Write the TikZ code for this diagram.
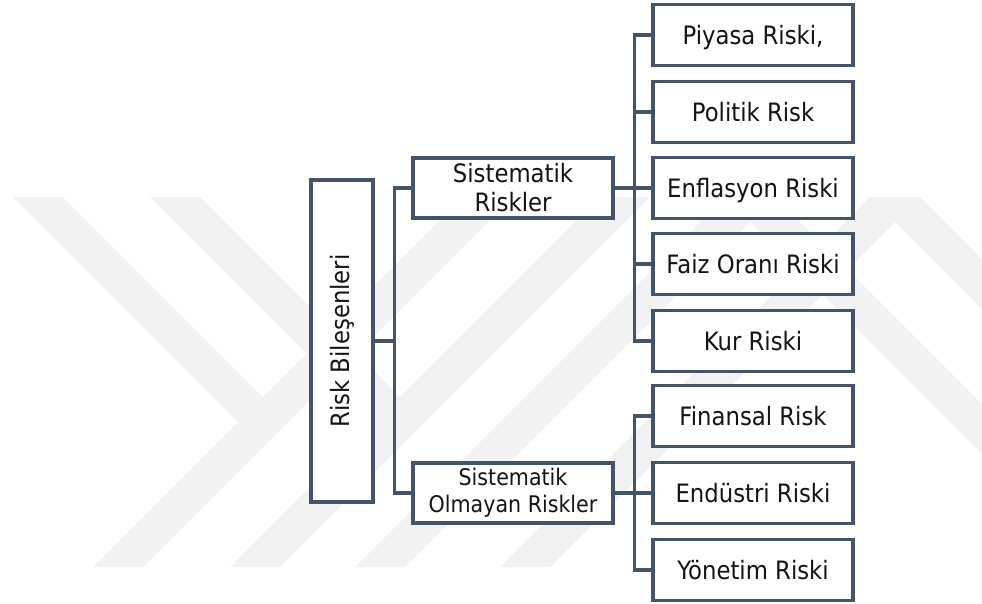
\documentclass[tikz,border=0pt]{standalone}
\usepackage{fontspec}
\setmainfont[FakeStretch=0.9]{DejaVu Sans}
\usetikzlibrary{positioning, calc}
\definecolor{boxline}{RGB}{68,84,106}
\definecolor{wmgray}{RGB}{242,242,242}
\tikzset{
        riskbox/.style={
            draw=boxline, line width=3.2pt, fill=white, inner sep=0pt,
            minimum width=200pt, minimum height=61pt, align=center, text=black!92,
            font=\fontsize{25.3}{29}\selectfont
        },
        leafbox/.style={riskbox, text height=18.4pt, text depth=0pt},
        groupbox/.style={riskbox, minimum height=60pt},
        rootbox/.style={riskbox, rotate=90, minimum width=322pt, minimum height=62pt},
        link/.style={draw=boxline, line width=3.2pt},
        wmband/.style={fill=wmgray},
}

\begin{document}
\begin{tikzpicture}[x=1pt, y=-1pt]

        \useasboundingbox (0,0) rectangle (982,603);

        % WATERMARK IN THE BACKGROUND
        \begin{scope}
        \clip (0,0) rectangle (982,603);
        \fill[wmband] (13,197) -- (63,197) -- (288,422) -- (238,422) -- cycle;
        \fill[wmband] (150,197) -- (200,197) -- (425,422) -- (375,422) -- cycle;
        \fill[wmband] (93,567) -- (143,567) -- (513,197) -- (463,197) -- cycle;
        \fill[wmband] (230,567) -- (280,567) -- (650,197) -- (600,197) -- cycle;
        \fill[wmband] (355,567) -- (405,567) -- (775,197) -- (725,197) -- cycle;
        \fill[wmband] (500,567) -- (550,567) -- (920,197) -- (870,197) -- cycle;
        \fill[wmband] (725,197) -- (775,197) -- (1145,567) -- (1095,567) -- cycle;
        \fill[wmband] (870,197) -- (920,197) -- (1290,567) -- (1240,567) -- cycle;
        \end{scope}

        % DRAW NODES (placed relative to the root box)
        \node[rootbox]  (root)     at (342,341)                  {Risk Bileşenleri};
        \node[groupbox] (sist)     at ($(root)+(171,-153)$)      {Sistematik\\Riskler};
        \node[groupbox, font=\fontsize{22.9}{27}\selectfont]
                        (nonsist)  at ($(root)+(171,152)$)       {Sistematik\\Olmayan Riskler};
        \node[leafbox]  (piyasa)   at ($(sist)+(240,-153)$)      {Piyasa Riski,};
        \node[leafbox]  (politik)  at ($(sist)+(240,-76)$)       {Politik Risk};
        \node[leafbox]  (enflasyon) at ($(sist)+(240,0)$)        {Enflasyon Riski};
        \node[leafbox]  (faiz)     at ($(sist)+(240,76)$)        {Faiz Oranı Riski};
        \node[leafbox]  (kur)      at ($(sist)+(240,153)$)       {Kur Riski};
        \node[leafbox]  (finansal) at ($(nonsist)+(240,-77)$)    {Finansal Risk};
        \node[leafbox]  (endustri) at ($(nonsist)+(240,0)$)      {Endüstri Riski};
        \node[leafbox]  (yonetim)  at ($(nonsist)+(240,77)$)     {Yönetim Riski};

        % CONNECT ROOT (root.south is its right side, the box is turned)
        \coordinate (rootjoin) at ($(root.south)+(20,0)$);
        \draw[link] (root.south) -- (rootjoin) |- (sist.west);
        \draw[link] (rootjoin) |- (nonsist.west);

        % CONNECT SISTEMATIK RISKLER
        \coordinate (sistjoin) at ($(sist.east)+(20,0)$);
        \draw[link] (sist.east) -- (sistjoin);
        \draw[link] (sistjoin) |- (piyasa.west);
        \draw[link] (sistjoin) |- (politik.west);
        \draw[link] (sistjoin) -- (enflasyon.west);
        \draw[link] (sistjoin) |- (faiz.west);
        \draw[link] (sistjoin) |- (kur.west);

        % CONNECT SISTEMATIK OLMAYAN RISKLER
        \coordinate (nonsistjoin) at ($(nonsist.east)+(20,0)$);
        \draw[link] (nonsist.east) -- (nonsistjoin);
        \draw[link] (nonsistjoin) |- (finansal.west);
        \draw[link] (nonsistjoin) -- (endustri.west);
        \draw[link] (nonsistjoin) |- (yonetim.west);

\end{tikzpicture}
\end{document}
